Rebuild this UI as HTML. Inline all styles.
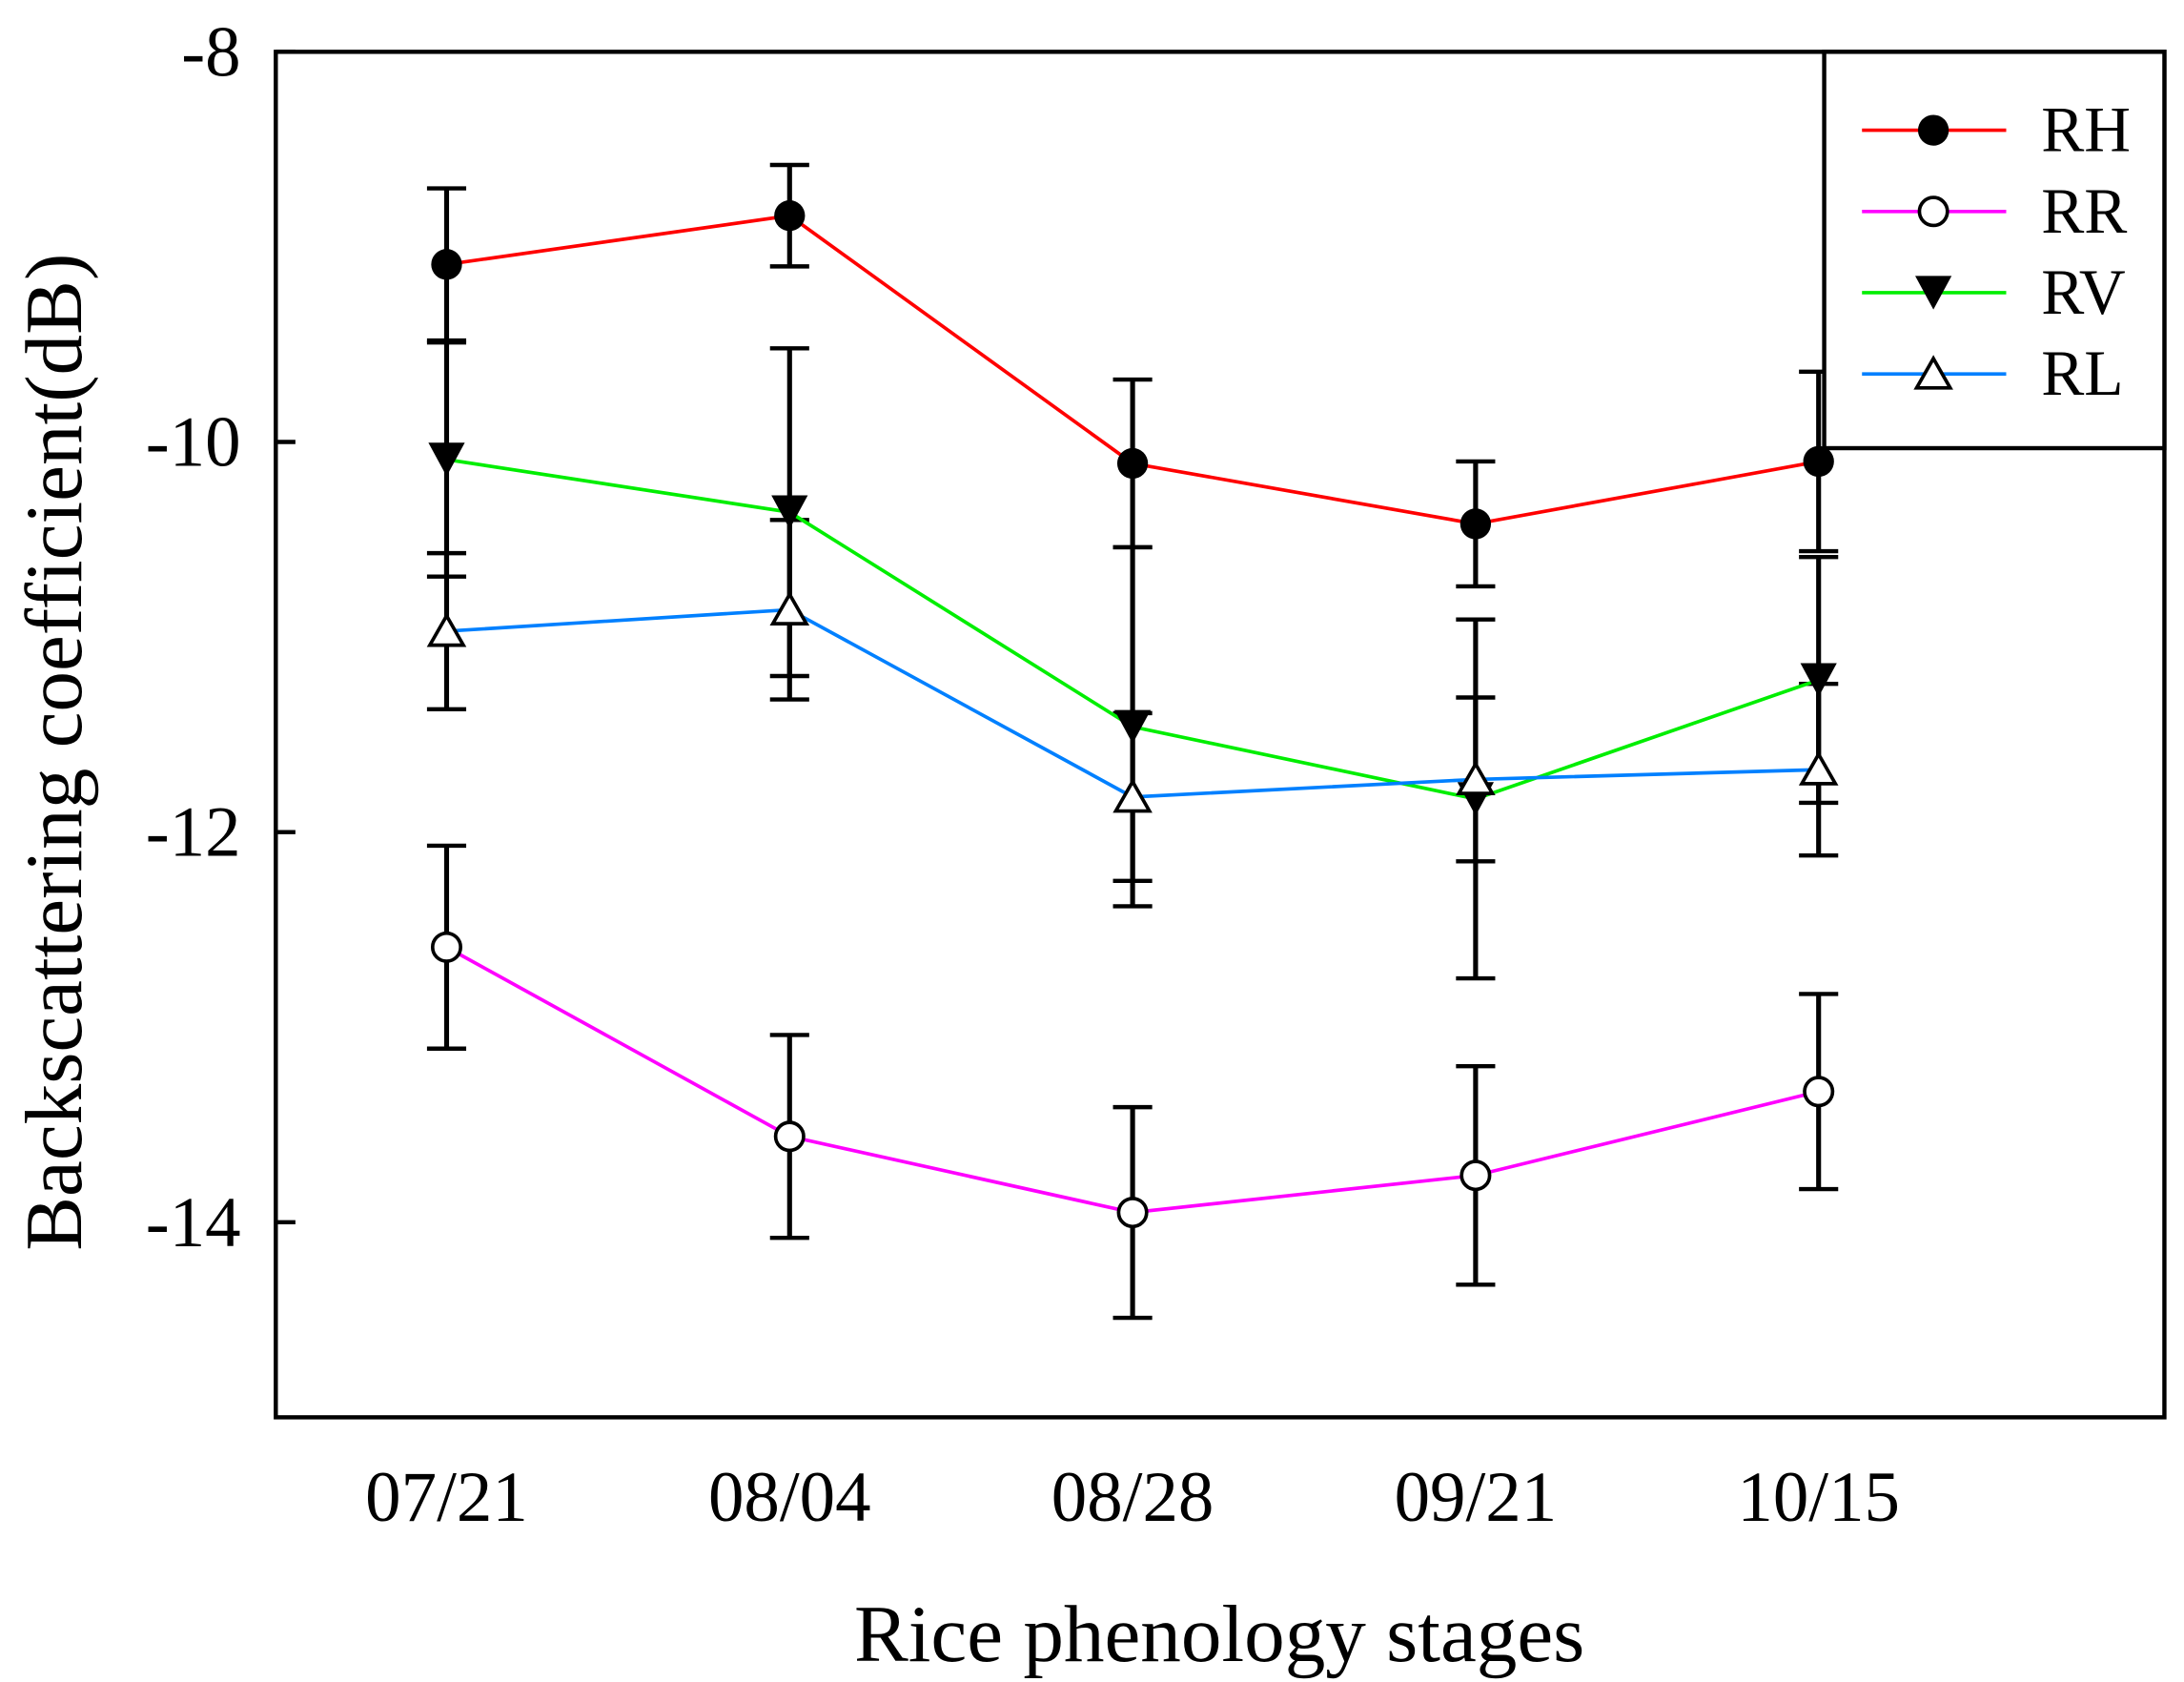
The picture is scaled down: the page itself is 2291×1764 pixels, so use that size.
<!DOCTYPE html>
<html><head><meta charset="utf-8"><style>html,body{margin:0;padding:0;background:#fff}svg{display:block}</style></head>
<body>
<svg id="chart" width="2291" height="1764" viewBox="0 0 1560 1201" preserveAspectRatio="none" xmlns="http://www.w3.org/2000/svg" font-family="'Liberation Serif', serif"></svg>
<script>
const categories = ["07/21","08/04","08/28","09/21","10/15"];
const rhValues = [-9.09,-8.84,-10.11,-10.42,-10.10];
const rhErr = [0.39,0.26,0.43,0.32,0.46];
const rrValues = [-12.59,-13.56,-13.95,-13.76,-13.33];
const rrErr = [0.52,0.52,0.54,0.56,0.50];
const rvValues = [-10.09,-10.36,-11.46,-11.83,-11.22];
const rvErr = [0.60,0.84,0.92,0.92,0.63];
const rlValues = [-10.97,-10.86,-11.82,-11.73,-11.68];
const rlErr = [0.40,0.46,0.43,0.42,0.44];
const yTicks = [-8,-10,-12,-14];

const NS="http://www.w3.org/2000/svg";
const svg=document.getElementById('chart');
const L=197,R=1546,T=37,B=1012;
const yMin=-15,yMax=-8;
const xs=i=>319+245*i;
const ys=v=>T+(yMax-v)/(yMax-yMin)*(B-T);
function mk(tag,attrs,parent){const e=document.createElementNS(NS,tag);for(const k in attrs)e.setAttribute(k,attrs[k]);(parent||svg).appendChild(e);return e;}

const series=[
 {name:'RH',vals:rhValues,err:rhErr,color:'#ff0000',marker:'dot'},
 {name:'RR',vals:rrValues,err:rrErr,color:'#ff00ff',marker:'circle'},
 {name:'RV',vals:rvValues,err:rvErr,color:'#00ee00',marker:'tridown'},
 {name:'RL',vals:rlValues,err:rlErr,color:'#0080ff',marker:'triup'}
];
function marker(type,x,y,g){
 let e;
 if(type==='dot') e=mk('circle',{cx:x,cy:y,r:11,fill:'#000'},g);
 else if(type==='circle') e=mk('circle',{cx:x,cy:y,r:10,fill:'#fff',stroke:'#000','stroke-width':2.5},g);
 else if(type==='tridown') e=mk('polygon',{points:`${x-13},${y-12} ${x+13},${y-12} ${x},${y+12}`,fill:'#000'},g);
 else e=mk('polygon',{points:`${x-12},${y+10} ${x+12},${y+10} ${x},${y-11}`,fill:'#fff',stroke:'#000','stroke-width':2.5},g);
 return e;
}
series.forEach(s=>{
 const g=mk('g',{});
 
 
 s.vals.forEach((v,i)=>{
  const x=xs(i),y1=ys(v+s.err[i]),y2=ys(v-s.err[i]);
  mk('line',{x1:x,x2:x,y1:y1,y2:y2,stroke:'#000','stroke-width':3.5},g);
  mk('line',{x1:x-14,x2:x+14,y1:y1,y2:y1,stroke:'#000','stroke-width':3},g);
  mk('line',{x1:x-14,x2:x+14,y1:y2,y2:y2,stroke:'#000','stroke-width':3},g);
 });
});
series.forEach(s=>{
 const pl=mk('polyline',{points:s.vals.map((v,i)=>xs(i)+','+ys(v)).join(' '),fill:'none',stroke:s.color,'stroke-width':2.5});
 
 
 s.vals.forEach((v,i)=>{
  const m=marker(s.marker,xs(i),ys(v));
  
  
 });
});
const frame=mk('rect',{x:L,y:T,width:R-L,height:B-T,fill:'none',stroke:'#000','stroke-width':3});


yTicks.forEach(t=>{
 const y=ys(t);
 mk('line',{x1:L,x2:L+14,y1:y,y2:y,stroke:'#000','stroke-width':3});
 const tx=mk('text',{x:172,y:y+17,'text-anchor':'end','font-size':51});
 tx.textContent=t;
 
 
});
categories.forEach((c,i)=>{
 const x=xs(i);
 const tx=mk('text',{x:x,y:1086,'text-anchor':'middle','font-size':51});
 tx.textContent=c;
 
 
});
const xt=mk('text',{x:871,y:1186,'text-anchor':'middle','font-size':58});
xt.textContent='Rice phenology stages';


const yt=mk('text',{x:0,y:0,'text-anchor':'middle','font-size':58,transform:'translate(58,537) rotate(-90)'});
yt.textContent='Backscattering coefficient(dB)';


const lg=mk('g',{});


mk('rect',{x:1303,y:37,width:243,height:283,fill:'#fff',stroke:'#000','stroke-width':3},lg);
series.forEach((s,k)=>{
 const y=93+58*k;
 const e=mk('g',{},lg);
 
 
 mk('line',{x1:1330,x2:1433,y1:y,y2:y,stroke:s.color,'stroke-width':2.5},e);
 marker(s.marker,1381,y,e);
 const t=mk('text',{x:1458,y:y+15,'font-size':46},e);
 t.textContent=s.name;
});
</script>
</body></html>
